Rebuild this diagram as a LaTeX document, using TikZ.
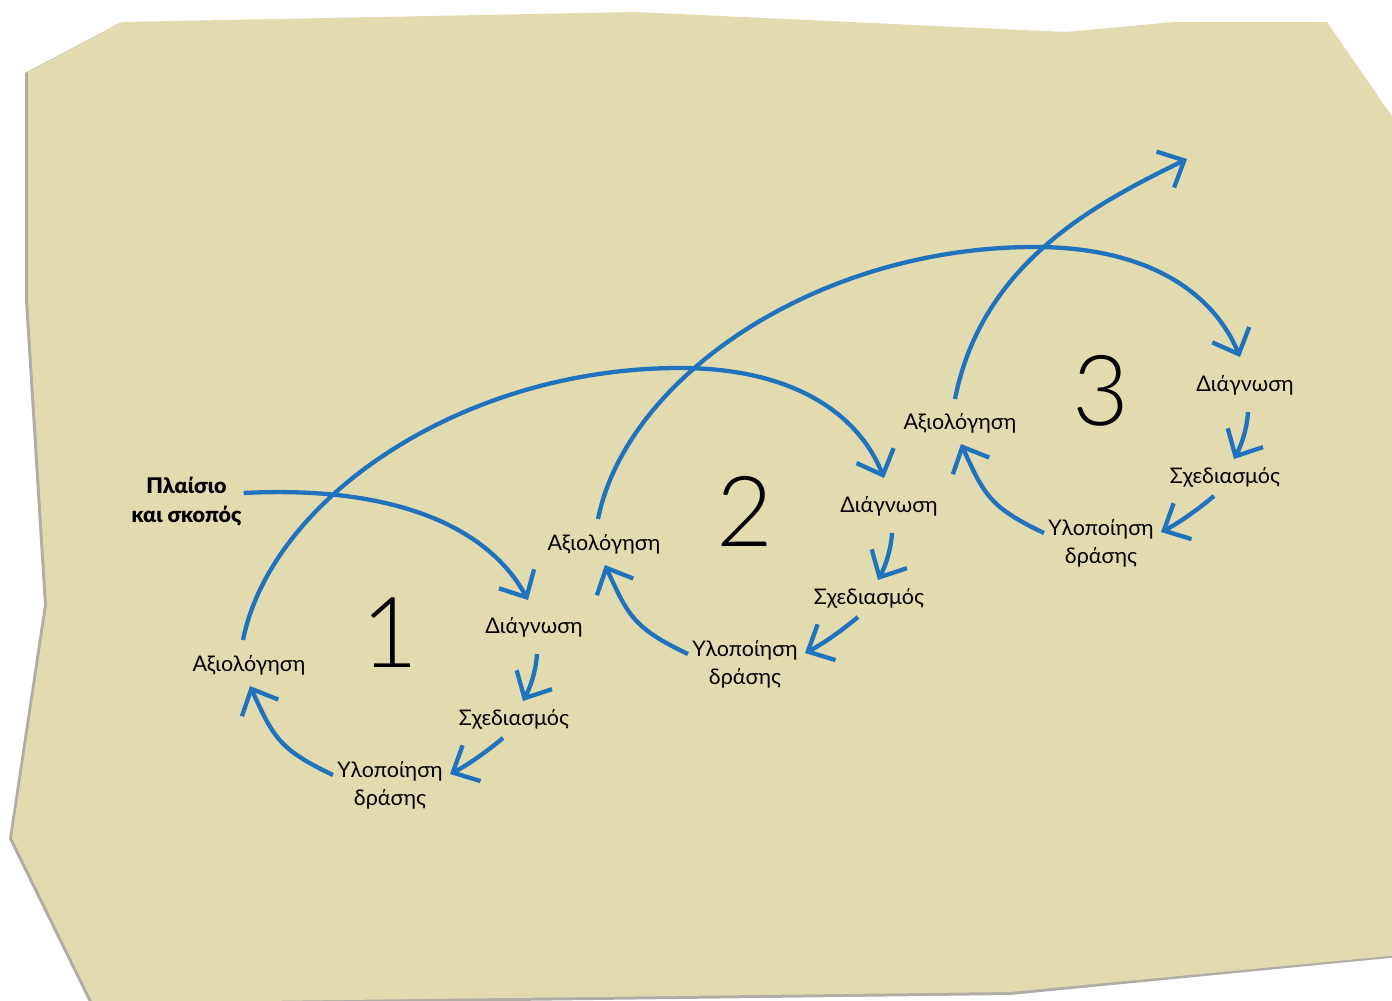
\documentclass[tikz,border=0pt]{standalone}
\usepackage{fontspec}
\setmainfont{Lato}
\IfFontExistsTF{Lato Light}{\newfontfamily\numfont{Lato Light}}{\newfontfamily\numfont{Lato}}
\IfFontExistsTF{Lato Black}{\newfontfamily\ttlfont{Lato Black}}{\newfontfamily\ttlfont{Lato}[UprightFont=*,BoldFont=* Bold]}
\usetikzlibrary{arrows.meta}
\definecolor{paper}{RGB}{227,219,176}
\definecolor{paperedge}{RGB}{175,173,165}
\definecolor{arrblue}{RGB}{31,114,189}
\newcommand\pdcycle[4]{%
\begin{scope}[shift={(#2,#3)}]
  \node[lbl] (e#1) at (249,671) {Αξιολόγηση};
  \node[num] (n#1) at (390,667) {#4};
  \node[lbl] (d#1) at (534,633) {Διάγνωση};
  \node[lbl] (s#1) at (514,725) {Σχεδιασμός};
  \node[lbl] (i#1) at (390,777) {Υλοποίηση};
  \node[lbl] (j#1) at (390,805) {δράσης};
  \draw[arr] ([shift={(3,21)}]d#1.base) .. controls (536,670) and (531,686) .. ([shift={(9,-24)}]s#1.base);
  \draw[arr] ([shift={(-11,13)}]s#1.base) .. controls (485,753) and (466,766) .. ([shift={(60,-3)}]i#1.base);
  \draw[arr] ([shift={(-57,-2)}]i#1.base) .. controls (278,749) and (273,736) .. ([shift={(1,15)}]e#1.base);
\end{scope}}
\newcommand\pdlink[4]{%
\begin{scope}[shift={(#3,#4)}]
  \draw[arr] ([shift={(-6,-31)}]e#1.base) .. controls (271,500) and (460,368) .. (680,368)
     .. controls (792,368) and (858,413) .. ([shift={(-5,-34)}]d#2.base);
\end{scope}}
\begin{document}
\begin{tikzpicture}[x=1pt,y=-1pt,
  lbl/.style={font=\fontsize{21.5}{24}\selectfont, inner sep=0pt, anchor=base},
  ttl/.style={font=\ttlfont\fontsize{21.5}{24}\selectfont, inner sep=0pt, anchor=base},
  num/.style={font=\numfont\fontsize{98}{98}\selectfont, inner sep=0pt, anchor=base},
  arr/.style={draw=arrblue, line width=4.3pt, -{Straight Barb[length=21pt,width=40pt]}}]
\useasboundingbox (0,0) rectangle (1392,1001);
% paper with a thin shadow on the left and bottom
\fill[paperedge] (120,23) -- (635,13) -- (1066,33) -- (1174,23) -- (1327,23) -- (1400,130) -- (1400,957)
  -- (1010,995) -- (91,1006) -- (9,839) -- (44,605) -- (25,300) -- (25,73) -- cycle;
\fill[paper] (122,22) -- (635,12) -- (1066,32) -- (1174,22) -- (1327,22) -- (1400,128) -- (1400,955)
  -- (1010,992) -- (93,1003) -- (12,838) -- (47,605) -- (28,300) -- (28,72) -- cycle;
% cycles
\pdcycle{1}{0}{0}{1}
\pdcycle{2}{355}{-121}{2}
\pdcycle{3}{711}{-242}{3}
% context
\node[ttl] (p1) at (186.5,493) {Πλαίσιο};
\node[ttl] (p2) at (186.5,522) {και σκοπός};
\draw[arr] ([shift={(17,0)}]p1.base east) .. controls (400,485) and (490,530) .. ([shift={(-6,-33)}]d1.base);
% links between cycles
\pdlink{1}{2}{0}{0}
\pdlink{2}{3}{355}{-121}
\coordinate (out) at (1187,159);
\draw[arr] ([shift={(-5,-30)}]e3.base) .. controls (982,262) and (1097,203) .. (out);
\end{tikzpicture}
\end{document}
